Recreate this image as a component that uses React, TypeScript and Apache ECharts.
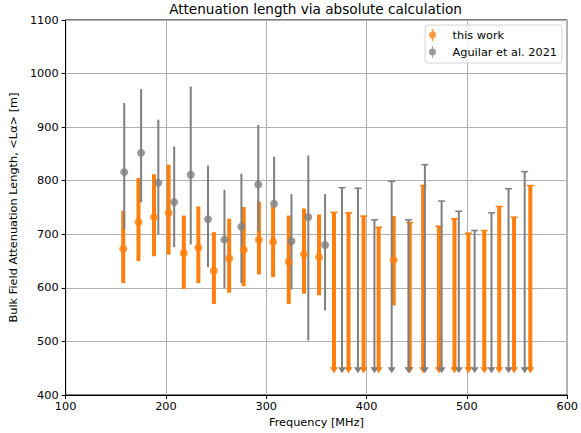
import React, { useEffect, useRef } from "react";
import * as echarts from "echarts";

// ---- data ----
const orangeFreq = [157.4, 172.6, 188.1, 202.6, 217.8, 232.3, 247.8, 263.0, 277.5, 292.7, 306.8, 322.4, 337.6, 352.6, 427.0];
const orangeVal = [673, 723, 732, 740, 665, 675, 632, 655, 671, 690, 686, 649, 663, 657, 652];
const orangeLow = [609, 650, 659, 662, 598, 609, 570, 591, 603, 625, 620, 570, 589, 586, 567];
const orangeHigh = [744, 805, 812, 830, 735, 752, 704, 729, 751, 761, 752, 735, 748, 737, 734];

const grayFreq = [158.4, 175.2, 192.4, 208.2, 224.7, 241.9, 258.3, 275.2, 292.0, 307.8, 325.1, 341.9, 358.6];
const grayVal = [816, 852, 796, 760, 811, 728, 690, 714, 793, 757, 687, 732, 680];
const grayLow = [709, 760, 699, 676, 681, 639, 600, 609, 706, 754, 597, 502, 558];
const grayHigh = [945, 971, 914, 864, 976, 828, 783, 813, 904, 845, 775, 847, 775];

// upper limits (arrow pointing down)
const orangeLimFreq = [367.5, 382.0, 397.0, 412.0, 443.0, 456.4, 472.1, 487.6, 501.5, 517.3, 532.2, 547.0, 563.2];
const orangeLimTop = [741, 740, 734, 713, 722, 791, 715, 729, 702, 707, 752, 732, 791];
const grayLimFreq = [375.5, 391.4, 407.8, 425.0, 441.8, 458.1, 474.8, 491.9, 507.7, 524.5, 541.5, 557.6];
const grayLimTop = [787, 786, 727, 799, 727, 830, 762, 743, 707, 740, 785, 817];
const limitFloor = 450;

const xTicks = [100, 200, 300, 400, 500, 600];
const yTicks = [400, 500, 600, 700, 800, 900, 1000, 1100];

const ORANGE = "#ff7f0e";
const GRAY = "#7f7f7f";
const FONT = "DejaVu Sans";
const FS = 11.3;

const errorBarItem = (color: string, width: number) => (params: any, api: any) => {
  const x = api.value(0);
  const p1 = api.coord([x, api.value(1)]);
  const p2 = api.coord([x, api.value(2)]);
  return {
    type: "line",
    shape: { x1: p1[0], y1: p1[1], x2: p2[0], y2: p2[1] },
    style: { stroke: color, lineWidth: width },
  };
};

const limitItem = (color: string, width: number) => (params: any, api: any) => {
  const x = api.value(0);
  const pt = api.coord([x, api.value(1)]);
  const pb = api.coord([x, limitFloor]);
  return {
    type: "group",
    children: [
      {
        type: "line",
        shape: { x1: pt[0], y1: pt[1], x2: pb[0], y2: pb[1] },
        style: { stroke: color, lineWidth: width },
      },
      {
        type: "line",
        shape: { x1: pt[0] - 3.5, y1: pt[1], x2: pt[0] + 3.5, y2: pt[1] },
        style: { stroke: color, lineWidth: 1.5 },
      },
      {
        type: "polygon",
        shape: {
          points: [
            [pb[0] - 4, pb[1] - 1],
            [pb[0] + 4, pb[1] - 1],
            [pb[0], pb[1] + 5],
          ],
        },
        style: { fill: color },
      },
    ],
  };
};

const iconThick = "path://M3,0 L5,0 L5,14 L3,14 Z M4,3 A4,4 0 1,1 4,11 A4,4 0 1,1 4,3 Z";
const iconThin = "path://M3.5,0 L4.5,0 L4.5,14 L3.5,14 Z M4,3 A4,4 0 1,1 4,11 A4,4 0 1,1 4,3 Z";

export default function App() {
  const ref = useRef<HTMLDivElement>(null);
  useEffect(() => {
    const chart = echarts.init(ref.current!, null, { renderer: "svg" });
    const option: any = {
      animation: false,
      backgroundColor: "#ffffff",
      textStyle: { fontFamily: FONT },
      title: {
        text: "Attenuation length via absolute calculation",
        left: 315.5,
        textAlign: "center",
        top: 2,
        padding: 0,
        textStyle: { fontFamily: FONT, fontSize: 13.6, fontWeight: "normal", color: "#000" },
      },
      legend: {
        orient: "vertical",
        right: 19,
        top: 25,
        padding: [4, 5, 5, 4],
        itemGap: 5,
        itemWidth: 20,
        itemHeight: 12,
        selectedMode: false,
        borderColor: "#d4d4d4",
        borderWidth: 1,
        borderRadius: 3,
        backgroundColor: "rgba(255,255,255,0.8)",
        textStyle: { fontFamily: FONT, fontSize: FS, color: "#000", padding: [0, 0, 0, 5] },
        data: [
          { name: "this work", icon: iconThick },
          { name: "Aguilar et al. 2021", icon: iconThin },
        ],
      },
      grid: { left: 63, right: 13, top: 20, bottom: 37, show: true, borderColor: "#000", borderWidth: 1 },
      xAxis: {
        type: "value",
        min: xTicks[0],
        max: xTicks[xTicks.length - 1],
        interval: 100,
        name: "Frequency [MHz]",
        nameLocation: "middle",
        nameGap: 22,
        nameTextStyle: { fontFamily: FONT, fontSize: FS, color: "#000" },
        axisLine: { show: true, lineStyle: { color: "#000", width: 1 } },
        axisTick: { show: true, length: 4, lineStyle: { color: "#000" } },
        axisLabel: { fontFamily: FONT, fontSize: FS, color: "#000", margin: 6, formatter: (v: number) => String(v) },
        splitLine: { show: true, lineStyle: { color: "#b0b0b0", width: 1 } },
      },
      yAxis: {
        type: "value",
        min: yTicks[0],
        max: yTicks[yTicks.length - 1],
        interval: 100,
        name: "Bulk Field Attenuation Length, <Lα> [m]",
        nameLocation: "middle",
        nameGap: 44,
        nameTextStyle: { fontFamily: FONT, fontSize: FS, color: "#000" },
        axisLine: { show: true, lineStyle: { color: "#000", width: 1 } },
        axisTick: { show: true, length: 4, lineStyle: { color: "#000" } },
        axisLabel: { fontFamily: FONT, fontSize: FS, color: "#000", margin: 7, formatter: (v: number) => String(v) },
        splitLine: { show: true, lineStyle: { color: "#b0b0b0", width: 1 } },
      },
      series: [
        {
          type: "custom",
          name: "orangeBars",
          renderItem: errorBarItem(ORANGE, 4),
          data: orangeFreq.map((f, i) => [f, orangeLow[i], orangeHigh[i]]),
          encode: { x: 0, y: [1, 2] },
        },
        {
          type: "custom",
          name: "orangeLimits",
          renderItem: limitItem(ORANGE, 4),
          data: orangeLimFreq.map((f, i) => [f, orangeLimTop[i]]),
          encode: { x: 0, y: 1 },
        },
        {
          type: "scatter",
          name: "this work",
          color: ORANGE,
          symbol: "circle",
          symbolSize: 8,
          itemStyle: { color: ORANGE },
          data: orangeFreq.map((f, i) => [f, orangeVal[i]]),
        },
        {
          type: "custom",
          name: "grayBars",
          renderItem: errorBarItem(GRAY, 2),
          data: grayFreq.map((f, i) => [f, grayLow[i], grayHigh[i]]),
          encode: { x: 0, y: [1, 2] },
        },
        {
          type: "custom",
          name: "grayLimits",
          renderItem: limitItem(GRAY, 2),
          data: grayLimFreq.map((f, i) => [f, grayLimTop[i]]),
          encode: { x: 0, y: 1 },
        },
        {
          type: "scatter",
          name: "Aguilar et al. 2021",
          color: GRAY,
          symbol: "circle",
          symbolSize: 8,
          itemStyle: { color: GRAY },
          data: grayFreq.map((f, i) => [f, grayVal[i]]),
        },
      ],
    };
    chart.setOption(option);
    return () => chart.dispose();
  }, []);
  return (
    <div
      ref={ref}
      style={{ position: "fixed", left: 0, top: 0, width: 581, height: 433, background: "#fff" }}
    />
  );
}
